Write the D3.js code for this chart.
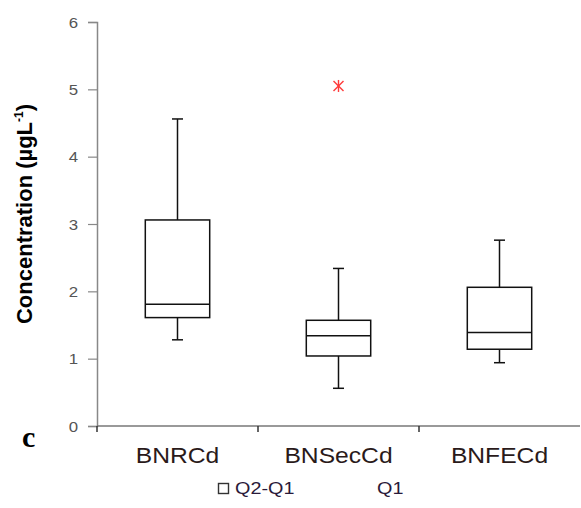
<!DOCTYPE html>
<html><head><meta charset="utf-8">
<script src="https://cdn.jsdelivr.net/npm/d3@7"></script>
<style>body{margin:0;background:#fff}svg{display:block}</style>
</head><body>
<svg id="c" width="581" height="508"></svg>
<script>
const categories = ["BNRCd", "BNSecCd", "BNFECd"];
const whiskerLow = [1.28, 0.56, 0.94];
const q1 = [1.61, 1.04, 1.14];
const median = [1.81, 1.34, 1.39];
const q3 = [3.06, 1.57, 2.06];
const whiskerHigh = [4.56, 2.34, 2.76];
const outliers = [{cat: "BNSecCd", value: 5.05}];
const yTicks = [0, 1, 2, 3, 4, 5, 6];
const legendLabels = ["Q2-Q1", "Q1"];

const FONT = "Arial, 'Liberation Sans', sans-serif";
const svg = d3.select("#c");
const y = d3.scaleLinear().domain([0, 6]).range([426, 22]);
const x = d3.scaleBand().domain(categories).range([97, 580]).padding(0);
const bw = x.bandwidth();
const boxW = bw * 0.4;
const capW = 11;

function stretch(sel, f) {
  sel.each(function() {
    const w = this.getComputedTextLength();
    d3.select(this).attr("textLength", w * f).attr("lengthAdjust", "spacingAndGlyphs");
  });
}

// Y axis
const yAxis = svg.append("g").attr("transform", "translate(97,0)")
  .call(d3.axisLeft(y).tickValues(yTicks).tickSize(9).tickPadding(10).tickFormat(d3.format("d")));
yAxis.select(".domain").attr("stroke", "#888").attr("stroke-width", 1.5);
yAxis.selectAll(".tick line").attr("stroke", "#888").attr("stroke-width", 1.2);
const yt = yAxis.selectAll(".tick text").attr("fill", "#555").attr("dy", "0.36em")
  .style("font-family", FONT).style("font-size", "14px");
stretch(yt, 1.2);

// X axis
const xAxisG = svg.append("g").attr("transform", "translate(0,426)");
xAxisG.append("line").attr("x1", 97).attr("x2", 580).attr("y1", 0).attr("y2", 0)
  .attr("stroke", "#777").attr("stroke-width", 1.5);
const boundaries = categories.map(c => x(c));
xAxisG.selectAll("line.t").data(boundaries).enter().append("line").attr("class", "t")
  .attr("x1", d => d).attr("x2", d => d).attr("y1", 0).attr("y2", 6)
  .attr("stroke", "#333").attr("stroke-width", 1.5);
const xl = xAxisG.selectAll("text").data(categories).enter().append("text")
  .attr("x", d => x(d) + bw / 2).attr("y", 37)
  .attr("text-anchor", "middle").attr("fill", "#2a1a1a")
  .style("font-family", FONT).style("font-size", "22px")
  .text(d => d);
stretch(xl, 1.12);

// Boxes
const g = svg.append("g");
categories.forEach((c, i) => {
  const cx = x(c) + bw / 2;
  const ln = (x1, y1, x2, y2) => g.append("line").attr("x1", x1).attr("y1", y1).attr("x2", x2).attr("y2", y2)
    .attr("stroke", "#111").attr("stroke-width", 1.5);
  ln(cx, y(whiskerHigh[i]), cx, y(q3[i]));
  ln(cx, y(q1[i]), cx, y(whiskerLow[i]));
  ln(cx - capW / 2, y(whiskerHigh[i]), cx + capW / 2, y(whiskerHigh[i]));
  ln(cx - capW / 2, y(whiskerLow[i]), cx + capW / 2, y(whiskerLow[i]));
  g.append("rect").attr("x", cx - boxW / 2).attr("y", y(q3[i])).attr("width", boxW)
    .attr("height", y(q1[i]) - y(q3[i])).attr("fill", "#fff").attr("stroke", "#111").attr("stroke-width", 1.5);
  ln(cx - boxW / 2, y(median[i]), cx + boxW / 2, y(median[i]));
});

// Outliers (asterisk)
outliers.forEach(o => {
  const cx = x(o.cat) + bw / 2, cy = y(o.value);
  const r = 5;
  const p = g.append("g").attr("stroke", "#ff3b3b").attr("stroke-width", 1.4);
  p.append("line").attr("x1", cx - r).attr("y1", cy - r).attr("x2", cx + r).attr("y2", cy + r);
  p.append("line").attr("x1", cx - r).attr("y1", cy + r).attr("x2", cx + r).attr("y2", cy - r);
  p.append("line").attr("x1", cx).attr("y1", cy - r - 1).attr("x2", cx).attr("y2", cy + r + 1);
});

// Y label
const yl = svg.append("text").attr("transform", "translate(32,214) rotate(-90)")
  .attr("text-anchor", "middle").attr("fill", "#000")
  .style("font-family", FONT).style("font-size", "22px").style("font-weight", "bold");
yl.append("tspan").text("Concentration (µgL");
yl.append("tspan").attr("dy", -9).style("font-size", "12px").text("-1");
yl.append("tspan").attr("dy", 9).text(")");

// panel letter
svg.append("text").attr("x", 22).attr("y", 447).attr("fill", "#000")
  .style("font-family", "'Liberation Serif', 'DejaVu Serif', serif").style("font-size", "30px")
  .style("font-weight", "bold").text("c");

// Legend
const lg = svg.append("g");
lg.append("rect").attr("x", 218.5).attr("y", 483.5).attr("width", 10).attr("height", 10)
  .attr("fill", "#fff").attr("stroke", "#333").attr("stroke-width", 1.4);
const lt = lg.selectAll("text").data(legendLabels).enter().append("text")
  .attr("x", (d, i) => i === 0 ? 235 : 377).attr("y", 494)
  .attr("fill", "#2a1a3a")
  .style("font-family", FONT).style("font-size", "16.5px")
  .text(d => d);
stretch(lt, 1.2);
</script>
</body></html>
